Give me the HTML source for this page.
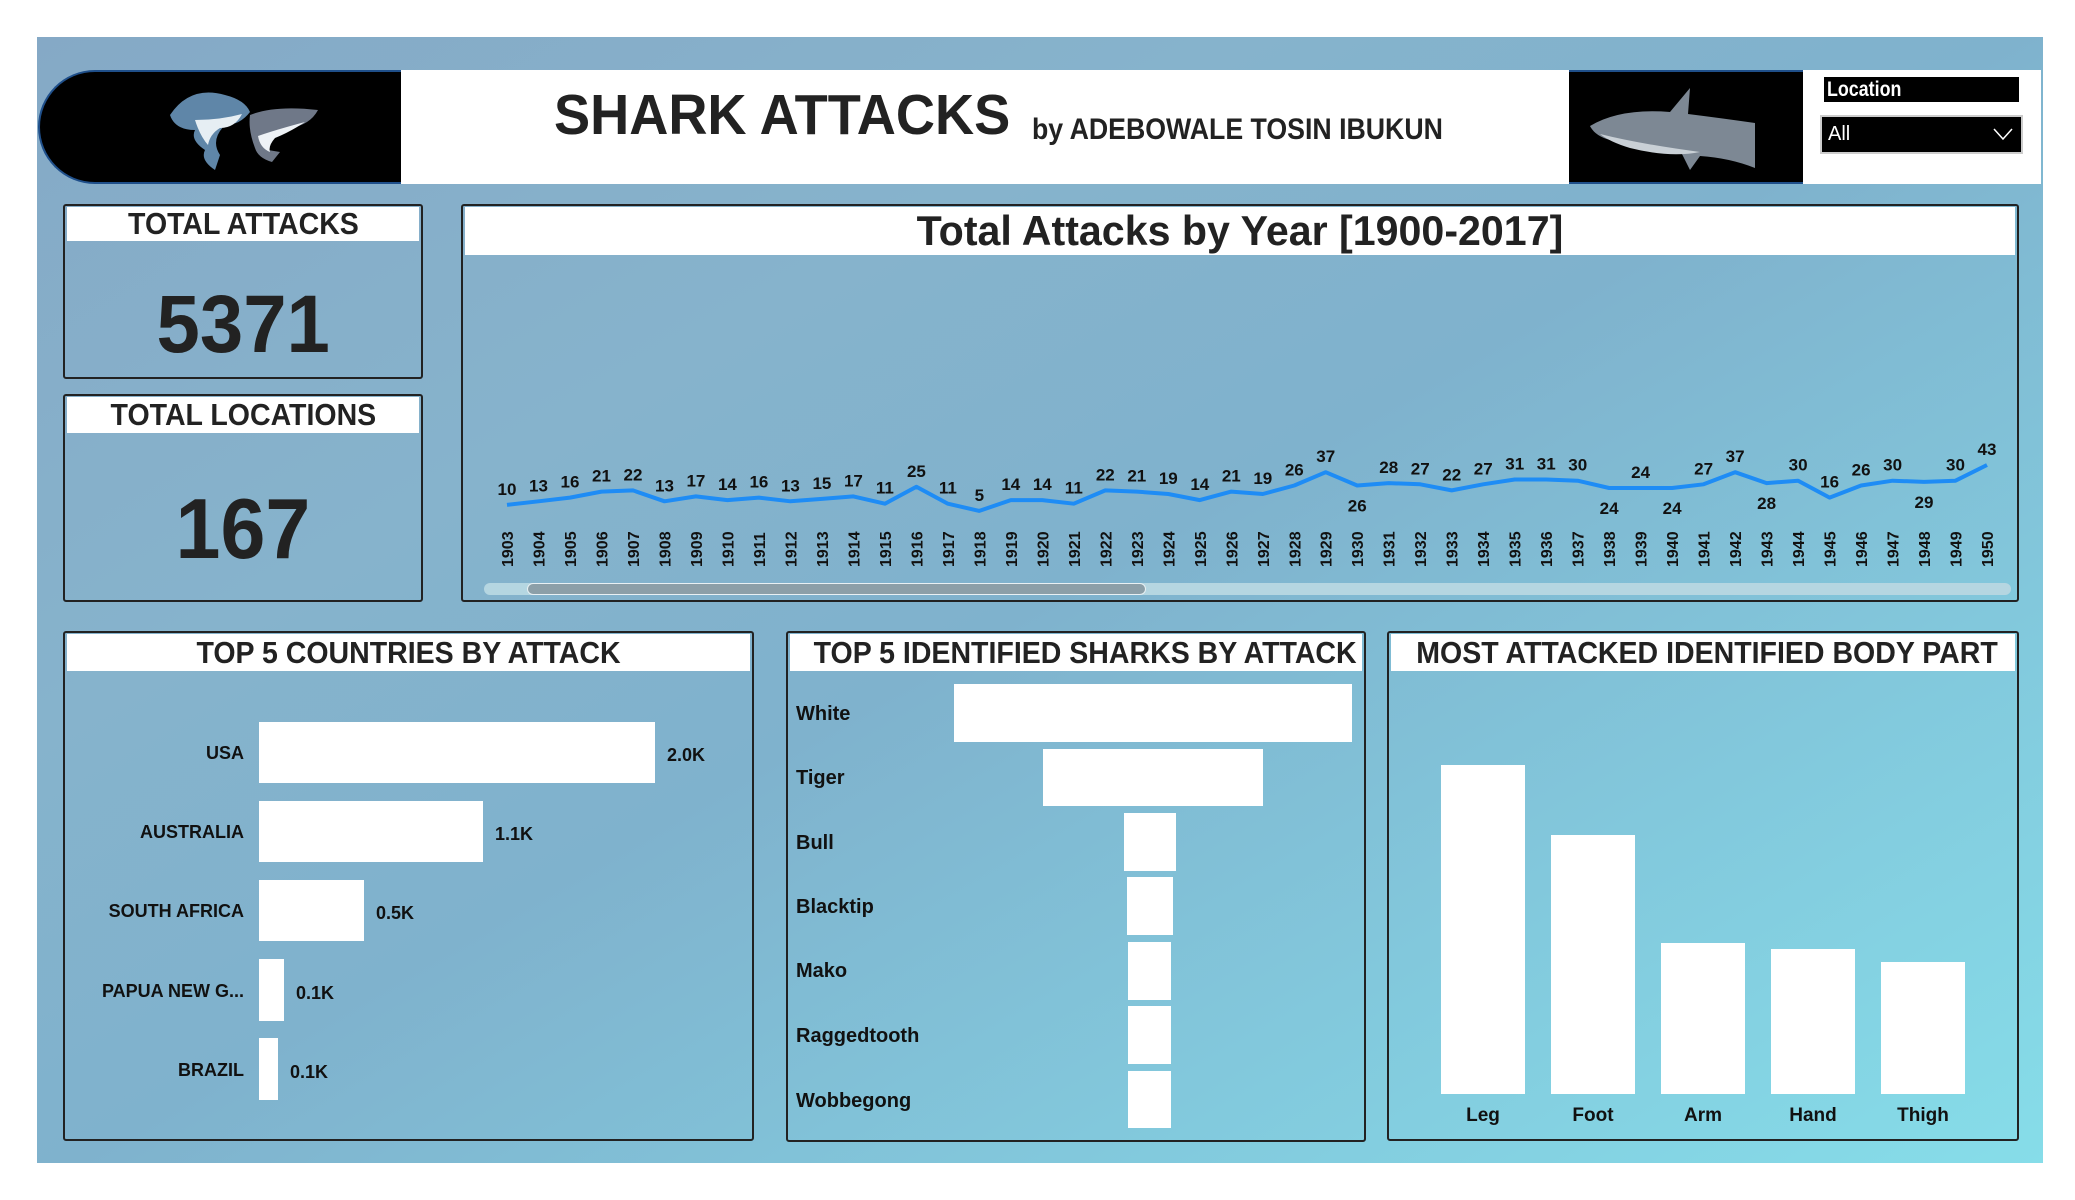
<!DOCTYPE html>
<html><head><meta charset="utf-8">
<style>
html,body{margin:0;padding:0;}
body{width:2075px;height:1200px;background:#fff;position:relative;overflow:hidden;font-family:"Liberation Sans",sans-serif;}
.bg{position:absolute;left:37px;top:37px;width:2006px;height:1126px;
background:linear-gradient(150deg,#85a9c6 0%,#86b3cc 30%,#7fb2cd 50%,#82c8dc 75%,#86dde9 100%);}
.abs{position:absolute;}
.panel{position:absolute;border:2px solid #222;border-radius:3px;box-sizing:border-box;}
.phead{position:absolute;left:2px;right:2px;top:2px;background:#fff;text-align:center;overflow:hidden;white-space:nowrap;}
.cond{display:inline-block;font-weight:bold;color:#222;transform:scaleX(0.92);transform-origin:center;}
</style></head><body>
<div class="bg"></div>

<!-- header -->
<div class="abs" style="left:38px;top:70px;width:363px;height:114px;background:#000;border-radius:57px 0 0 57px;border:2px solid #1f4f8a;border-right:none;box-sizing:border-box;"></div>
<svg class="abs" style="left:150px;top:70px" width="200" height="114" viewBox="0 0 200 114">
 <path d="M20 45 Q40 15 75 25 Q95 30 100 42 Q90 55 75 55 Q60 70 70 85 L65 100 Q50 90 55 80 Q40 70 45 60 Q25 60 20 45Z" fill="#5f86a8"/>
 <path d="M45 50 Q70 50 92 44 Q85 58 70 58 Q60 64 58 75 Q50 66 45 50Z" fill="#e6eef3"/>
 <path d="M100 45 Q125 35 168 40 Q160 55 140 58 Q120 66 118 80 L130 82 L122 92 Q108 88 105 78 Q98 60 100 45Z" fill="#6f7888"/>
 <path d="M108 66 Q125 60 155 52 Q140 62 125 68 Q118 76 120 82 Q110 78 108 66Z" fill="#eef2f6"/>
</svg>
<div class="abs" style="left:401px;top:70px;width:1168px;height:114px;background:#fff;"></div>
<div class="abs" style="left:1569px;top:70px;width:234px;height:114px;background:#000;border-top:2px solid #1f4f8a;border-bottom:2px solid #1f4f8a;box-sizing:border-box;"></div>
<svg class="abs" style="left:1590px;top:78px" width="180" height="100" viewBox="0 0 180 100">
 <path d="M0 48 Q30 30 80 34 L100 10 L98 36 Q130 40 165 45 L165 90 Q140 80 110 78 L100 92 L92 76 Q50 70 20 62 Q5 58 0 48Z" fill="#7d8894"/>
 <path d="M10 56 Q50 66 110 74 Q80 80 40 70 Q20 64 10 56Z" fill="#c9d0d6"/>
</svg>
<div class="abs" style="left:1803px;top:70px;width:238px;height:114px;background:#fff;"></div>
<div class="abs" style="left:1824px;top:77px;width:195px;height:25px;background:#000;color:#fff;font-size:21px;font-weight:bold;line-height:25px;padding-left:3px;box-sizing:border-box;"><span style="display:inline-block;transform:scaleX(0.85);transform-origin:left">Location</span></div>
<div class="abs" style="left:1820px;top:115px;width:203px;height:39px;background:#000;border:2px solid #ccc;box-sizing:border-box;color:#fff;font-size:20px;line-height:35px;padding-left:6px;">All
 <svg class="abs" style="right:8px;top:10px" width="20" height="14"><polyline points="1,2 10,12 19,2" fill="none" stroke="#fff" stroke-width="1.5"/></svg></div>

<div class="abs" style="left:554px;top:82px;font-size:57px;font-weight:bold;color:#222;white-space:nowrap;transform:scaleX(0.95);transform-origin:left;">SHARK ATTACKS</div>
<div class="abs" style="left:1032px;top:113px;font-size:30px;font-weight:bold;color:#222;white-space:nowrap;transform:scaleX(0.89);transform-origin:left;">by ADEBOWALE TOSIN IBUKUN</div>

<!-- KPIs -->
<div class="panel" style="left:63px;top:204px;width:360px;height:175px;">
 <div class="phead" style="top:1px;height:34px;line-height:34px;"><span class="cond" style="font-size:31px">TOTAL ATTACKS</span></div>
 <div class="abs" style="left:0;right:0;top:72px;text-align:center;"><span class="cond" style="font-size:82px;transform:scaleX(0.95)">5371</span></div>
</div>
<div class="panel" style="left:63px;top:394px;width:360px;height:208px;">
 <div class="phead" style="top:1px;height:36px;line-height:36px;"><span class="cond" style="font-size:31px">TOTAL LOCATIONS</span></div>
 <div class="abs" style="left:0;right:0;top:85px;text-align:center;"><span class="cond" style="font-size:85px;transform:scaleX(0.95)">167</span></div>
</div>

<!-- line chart -->
<div class="panel" style="left:461px;top:204px;width:1558px;height:398px;">
 <div class="phead" style="top:1px;height:48px;line-height:48px;"><span class="cond" style="font-size:42px;transform:scaleX(0.98)">Total Attacks by Year [1900-2017]</span></div>
</div>
<svg id="lc" class="abs" style="left:0;top:0" width="2075" height="620"></svg>
<div class="abs" style="left:484px;top:583px;width:1527px;height:12px;background:#b5d6e1;border-radius:6px;"></div>
<div class="abs" style="left:527px;top:583px;width:619px;height:12px;background:#8c9fa8;border-radius:6px;border:1px solid #e8f0f3;box-sizing:border-box;"></div>

<!-- countries -->
<div class="panel" style="left:63px;top:631px;width:691px;height:510px;">
 <div class="phead" style="top:1px;height:37px;line-height:37px;"><span class="cond" style="font-size:31px">TOP 5 COUNTRIES BY ATTACK</span></div>
</div>
<svg class="abs" style="left:0;top:0" width="2075" height="1200" font-family="Liberation Sans" font-weight="bold" font-size="18" fill="#111">
 <rect x="259" y="722" width="396" height="61" fill="#fff"/>
 <rect x="259" y="801" width="224" height="61" fill="#fff"/>
 <rect x="259" y="880" width="105" height="61" fill="#fff"/>
 <rect x="259" y="959" width="25" height="62" fill="#fff"/>
 <rect x="259" y="1038" width="19" height="62" fill="#fff"/>
 <g text-anchor="end">
  <text x="244" y="759">USA</text>
  <text x="244" y="838">AUSTRALIA</text>
  <text x="244" y="917">SOUTH AFRICA</text>
  <text x="244" y="997">PAPUA NEW G...</text>
  <text x="244" y="1076">BRAZIL</text>
 </g>
 <text x="667" y="761">2.0K</text>
 <text x="495" y="840">1.1K</text>
 <text x="376" y="919">0.5K</text>
 <text x="296" y="999">0.1K</text>
 <text x="290" y="1078">0.1K</text>

 <rect x="954" y="684" width="398" height="58" fill="#fff"/>
 <rect x="1043" y="749" width="220" height="57" fill="#fff"/>
 <rect x="1124" y="813" width="52" height="58" fill="#fff"/>
 <rect x="1127" y="877" width="46" height="58" fill="#fff"/>
 <rect x="1128" y="942" width="43" height="58" fill="#fff"/>
 <rect x="1128" y="1006" width="43" height="58" fill="#fff"/>
 <rect x="1128" y="1071" width="43" height="57" fill="#fff"/>
 <g font-size="20">
  <text x="796" y="720">White</text>
  <text x="796" y="784">Tiger</text>
  <text x="796" y="849">Bull</text>
  <text x="796" y="913">Blacktip</text>
  <text x="796" y="977">Mako</text>
  <text x="796" y="1042">Raggedtooth</text>
  <text x="796" y="1107">Wobbegong</text>
 </g>

 <rect x="1441" y="765" width="84" height="329" fill="#fff"/>
 <rect x="1551" y="835" width="84" height="259" fill="#fff"/>
 <rect x="1661" y="943" width="84" height="151" fill="#fff"/>
 <rect x="1771" y="949" width="84" height="145" fill="#fff"/>
 <rect x="1881" y="962" width="84" height="132" fill="#fff"/>
 <g text-anchor="middle" font-size="19">
  <text x="1483" y="1121">Leg</text>
  <text x="1593" y="1121">Foot</text>
  <text x="1703" y="1121">Arm</text>
  <text x="1813" y="1121">Hand</text>
  <text x="1923" y="1121">Thigh</text>
 </g>
</svg>
<div class="panel" style="left:786px;top:631px;width:580px;height:511px;">
 <div class="phead" style="top:1px;height:37px;line-height:37px;"><span class="cond" style="font-size:31px">TOP 5 IDENTIFIED SHARKS BY ATTACK</span></div>
</div>
<div class="panel" style="left:1387px;top:631px;width:632px;height:510px;">
 <div class="phead" style="top:1px;height:37px;line-height:37px;"><span class="cond" style="font-size:31px">MOST ATTACKED IDENTIFIED BODY PART</span></div>
</div>

<script>
var v=[10,13,16,21,22,13,17,14,16,13,15,17,11,25,11,5,14,14,11,22,21,19,14,21,19,26,37,26,28,27,22,27,31,31,30,24,24,24,27,37,28,30,16,26,30,29,30,43];
var below={1930:1,1938:1,1940:1,1943:1,1948:1};
var s='',pts=[];
for(var i=0;i<v.length;i++){
 var x=507+i*31.49, y=517-1.21*v[i], yr=1903+i;
 pts.push(x.toFixed(1)+','+y.toFixed(1));
 var ly=below[yr]? y+26 : y-10;
 s+='<text x="'+x.toFixed(1)+'" y="'+ly.toFixed(1)+'" text-anchor="middle" font-size="17" font-weight="bold" fill="#111" font-family="Liberation Sans">'+v[i]+'</text>';
 s+='<text transform="translate('+(x+6).toFixed(1)+',567) rotate(-90)" font-size="16" font-weight="bold" fill="#111" font-family="Liberation Sans">'+yr+'</text>';
}
s='<polyline points="'+pts.join(' ')+'" fill="none" stroke="#1e8cf5" stroke-width="4" stroke-linejoin="round"/>'+s;
document.getElementById('lc').innerHTML=s;
</script>
</body></html>
